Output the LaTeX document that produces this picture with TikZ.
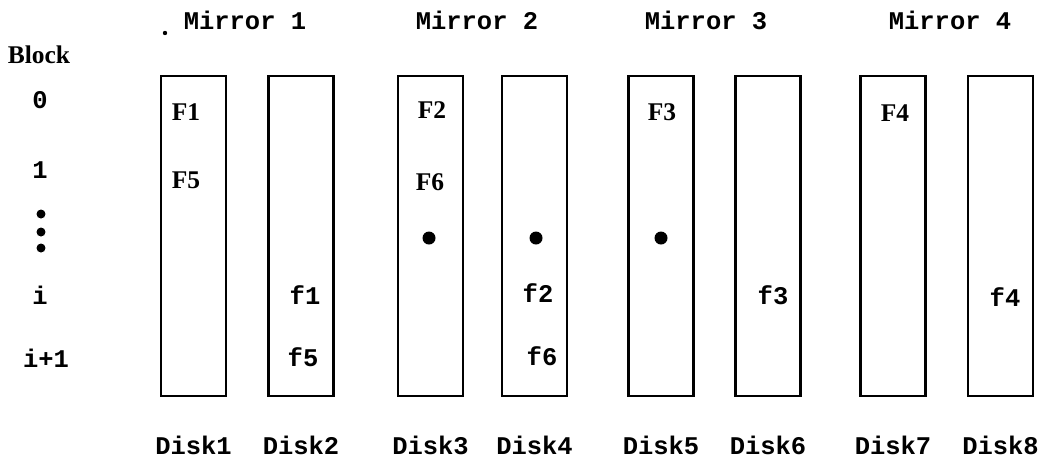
\documentclass[tikz,border=0pt]{standalone}
\usepackage{fontspec}
\newfontfamily\diskmono{Liberation Mono}
\newfontfamily\diskserif{Liberation Serif}
\usetikzlibrary{positioning}
\tikzset{
  diskbox/.style = {draw, line width=1.6pt, minimum width=1.3cm,
                    minimum height=6.4cm, inner sep=0pt},
  monolbl/.style = {font=\diskmono\bfseries\fontsize{14.5}{16}\selectfont,
                    inner sep=1pt},
  serflbl/.style = {font=\diskserif\bfseries\fontsize{14.5}{16}\selectfont,
                    inner sep=1pt},
  gapdot/.style  = {circle, fill=black, inner sep=0pt, minimum size=0.26cm},
  rowdot/.style  = {circle, fill=black, inner sep=0pt, minimum size=0.18cm},
}

\begin{document}
\begin{tikzpicture}[x=0.02cm, y=-0.02cm]
    \useasboundingbox (0,0) rectangle (1047,458);

    % disks and their names
    \foreach \n/\xx in {1/193.5, 2/301, 3/430.5, 4/534.5, 5/661, 6/768, 7/893, 8/1000.5}
      {\node[diskbox] (disk\n) at (\xx,236) {};
       \node[monolbl] (dname\n) at (\xx,445) {Disk\n};}

    % mirror pairs
    \foreach \m/\xx in {1/245, 2/477, 3/706, 4/950}
      \node[monolbl] (mirror\m) at (\xx,20) {Mirror \m};
    \node[circle, fill=black, inner sep=0pt, minimum size=2.5pt] (speck) at (165,33) {};

    % block numbers
    \node[serflbl] (blockhd) at (39,55) {Block};
    \node[monolbl] (row0) at (40,100) {0};
    \node[monolbl] (row1) at (40,170) {1};
    \foreach \k/\yy in {a/214, b/232, c/248}
      \node[rowdot] (rowdot\k) at (41,\yy) {};
    \node[monolbl] (rowi) at (40,295) {i};
    \node[monolbl] (rowii) at (46,358) {i+1};

    % primary copies
    \node[serflbl] (bigF1) at (186,112) {F1};
    \node[serflbl] (bigF5) at (186,180) {F5};
    \node[serflbl] (bigF2) at (432,110) {F2};
    \node[serflbl] (bigF6) at (430,182) {F6};
    \node[serflbl] (bigF3) at (662,112) {F3};
    \node[serflbl] (bigF4) at (895,113) {F4};
    \foreach \k/\xx in {3/429, 4/536, 5/661}
      \node[gapdot] (gap\k) at (\xx,238) {};

    % mirrored copies
    \node[monolbl] (smallf1) at (305,295) {f1};
    \node[monolbl] (smallf5) at (303,357) {f5};
    \node[monolbl] (smallf2) at (538,293) {f2};
    \node[monolbl] (smallf6) at (542,356) {f6};
    \node[monolbl] (smallf3) at (773,295) {f3};
    \node[monolbl] (smallf4) at (1005,297) {f4};
\end{tikzpicture}
\end{document}
